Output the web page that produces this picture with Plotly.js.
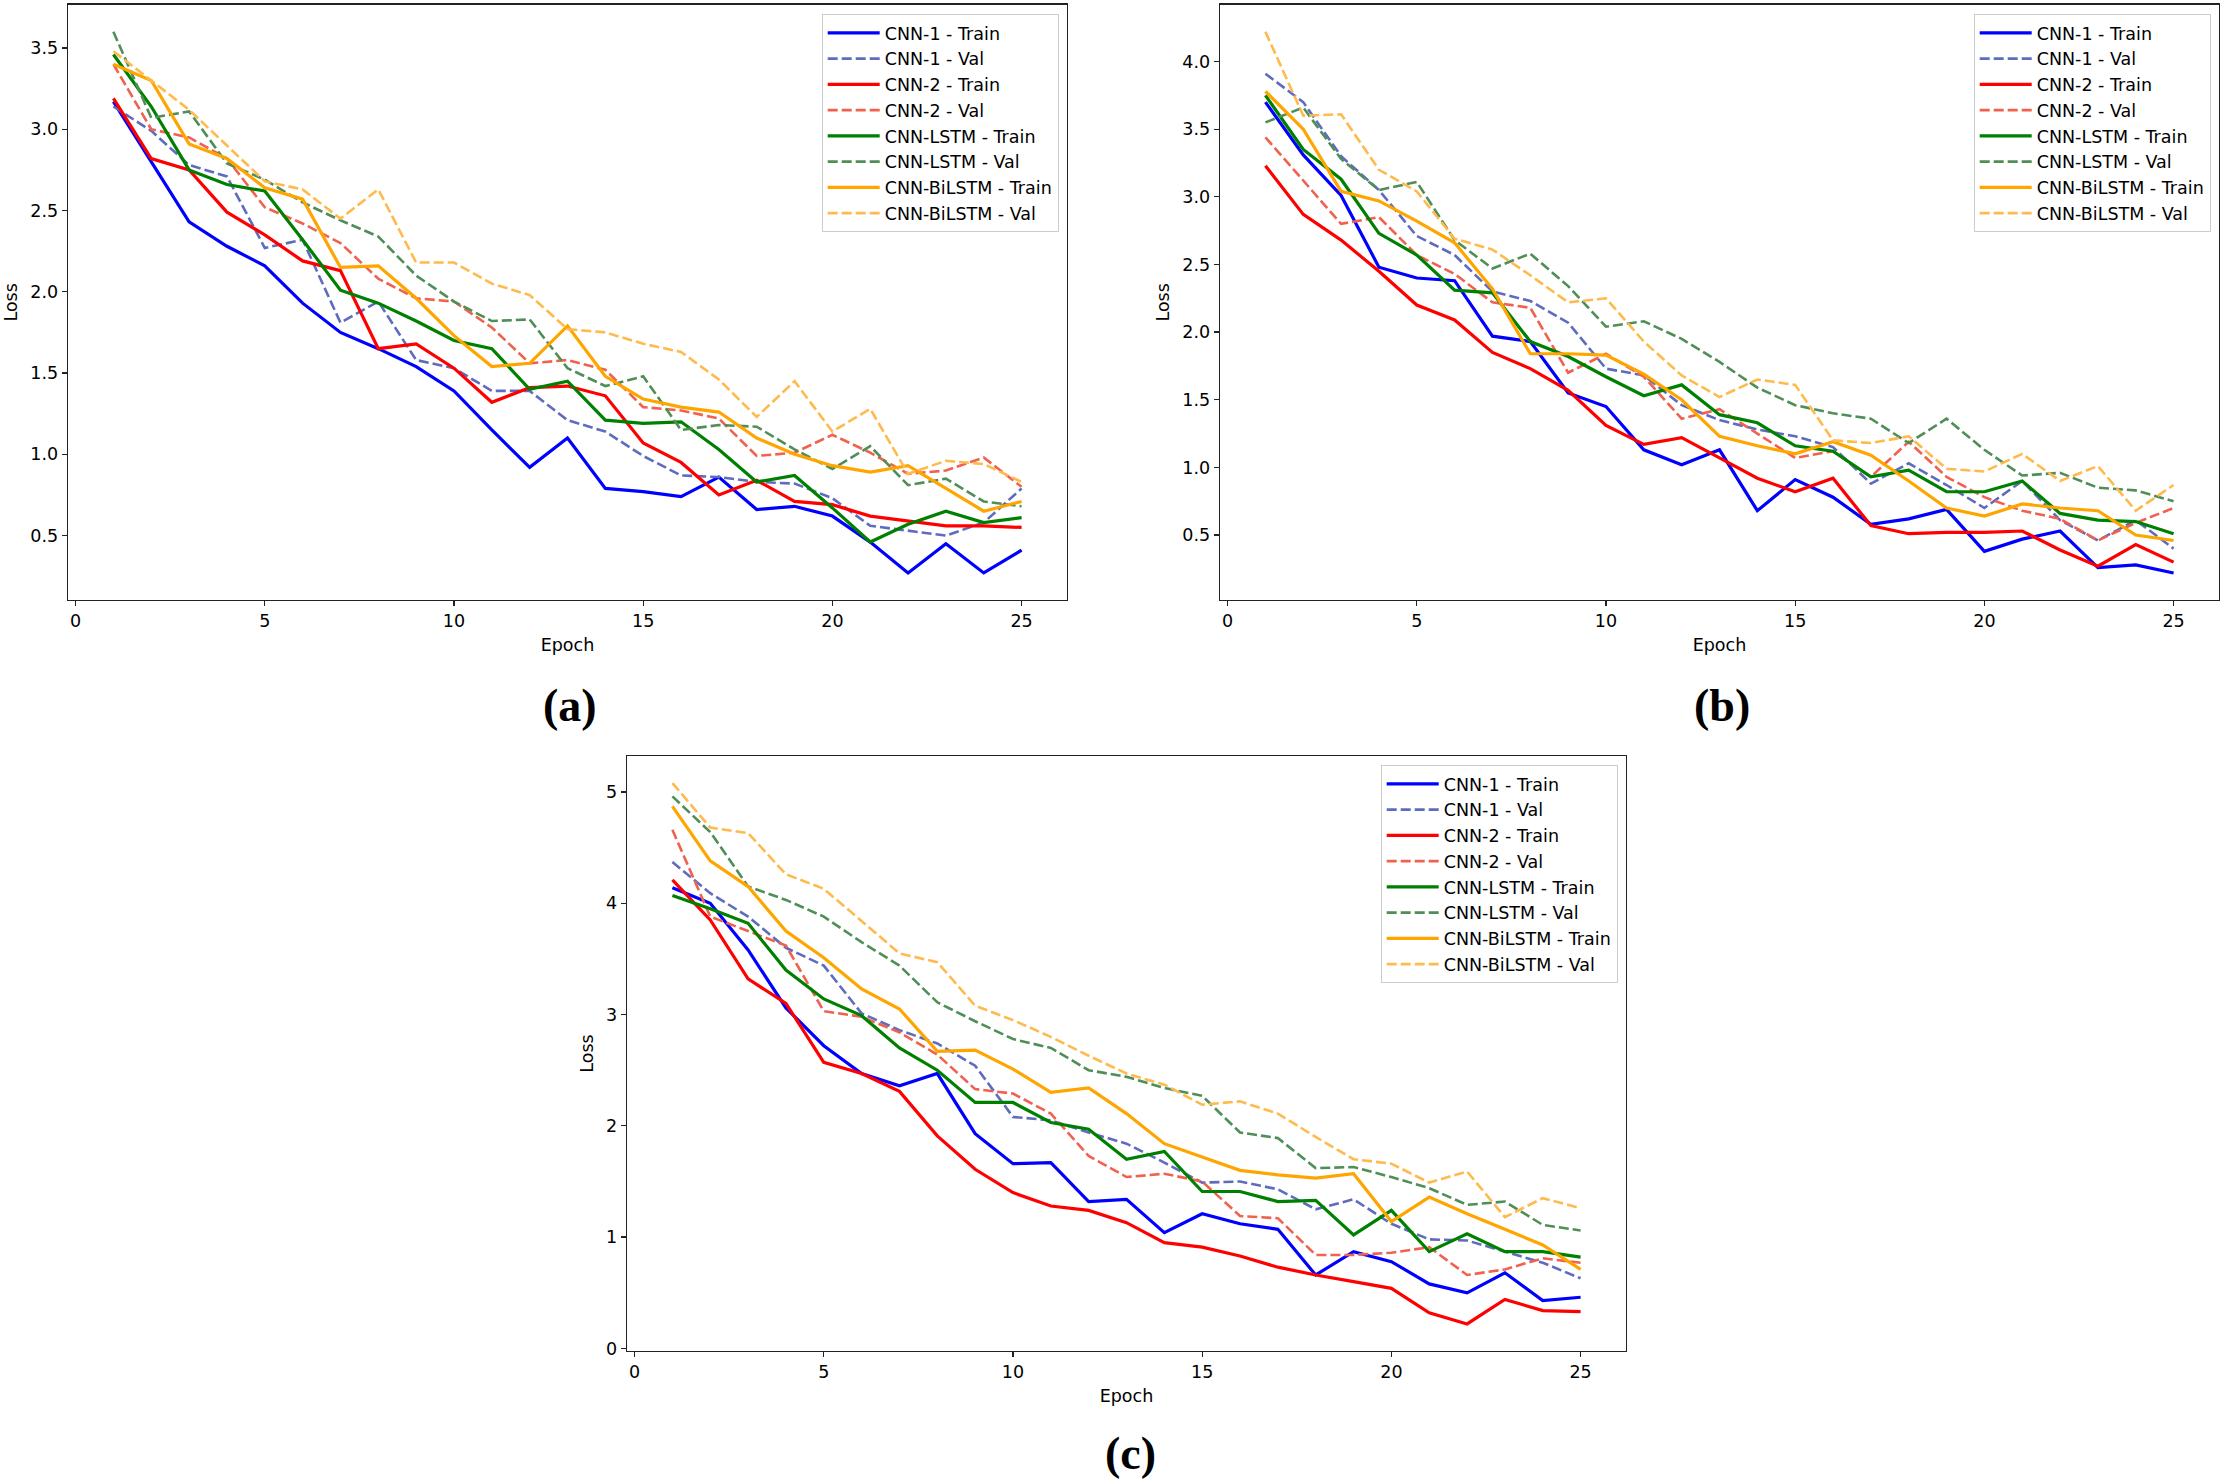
<!DOCTYPE html>
<html>
<head>
<meta charset="utf-8">
<script src="https://cdn.plot.ly/plotly-3.0.1.min.js"></script>
<style>
  html, body { margin: 0; padding: 0; background: #ffffff; }
  #chart { width: 2223px; height: 1482px; }
</style>
</head>
<body>
<div id="chart"></div>
<script>
// ---------------- DATA ----------------
const epochs = [1,2,3,4,5,6,7,8,9,10,11,12,13,14,15,16,17,18,19,20,21,22,23,24,25];

const seriesNames = ["CNN-1 - Train","CNN-1 - Val","CNN-2 - Train","CNN-2 - Val",
                     "CNN-LSTM - Train","CNN-LSTM - Val","CNN-BiLSTM - Train","CNN-BiLSTM - Val"];

const panelLabels = ["(a)", "(b)", "(c)"];

// Panel (a)
const a_cnn1_train = [3.17,2.80,2.43,2.28,2.16,1.93,1.75,1.65,1.54,1.39,1.15,0.92,1.10,0.79,0.77,0.74,0.86,0.66,0.68,0.62,0.46,0.27,0.45,0.27,0.41];
const a_cnn1_val   = [3.14,2.99,2.78,2.71,2.27,2.32,1.81,1.94,1.58,1.53,1.39,1.39,1.21,1.14,0.99,0.87,0.86,0.83,0.82,0.73,0.56,0.53,0.50,0.58,0.79];
const a_cnn2_train = [3.19,2.82,2.75,2.49,2.35,2.19,2.13,1.65,1.68,1.53,1.32,1.41,1.42,1.36,1.07,0.95,0.75,0.84,0.71,0.69,0.62,0.59,0.56,0.56,0.55];
const a_cnn2_val   = [3.40,3.00,2.95,2.82,2.52,2.42,2.30,2.08,1.96,1.94,1.78,1.56,1.58,1.52,1.29,1.27,1.22,0.99,1.01,1.12,1.01,0.88,0.90,0.98,0.80];
const a_lstm_train = [3.46,3.14,2.75,2.66,2.62,2.32,2.01,1.93,1.82,1.70,1.65,1.40,1.45,1.21,1.19,1.20,1.03,0.83,0.87,0.67,0.46,0.57,0.65,0.58,0.61];
const a_lstm_val   = [3.60,3.07,3.11,2.79,2.69,2.55,2.44,2.34,2.10,1.94,1.82,1.83,1.53,1.42,1.48,1.15,1.18,1.17,1.03,0.91,1.05,0.81,0.85,0.71,0.68];
const a_bilstm_train = [3.40,3.30,2.91,2.82,2.64,2.57,2.15,2.16,1.96,1.73,1.54,1.56,1.79,1.48,1.34,1.29,1.26,1.10,1.00,0.93,0.89,0.93,0.79,0.65,0.71];
const a_bilstm_val   = [3.48,3.30,3.12,2.90,2.68,2.63,2.45,2.63,2.18,2.18,2.05,1.98,1.77,1.75,1.68,1.63,1.46,1.23,1.45,1.14,1.28,0.88,0.96,0.94,0.83];

// Panel (b)
const b_cnn1_train = [3.70,3.31,3.01,2.48,2.40,2.38,1.97,1.93,1.55,1.45,1.13,1.02,1.13,0.68,0.91,0.78,0.58,0.62,0.69,0.38,0.47,0.53,0.26,0.28,0.22];
const b_cnn1_val   = [3.91,3.70,3.30,3.05,2.71,2.57,2.30,2.23,2.07,1.73,1.68,1.46,1.35,1.28,1.23,1.15,0.88,1.03,0.87,0.70,0.90,0.61,0.46,0.61,0.40];
const b_cnn2_train = [3.23,2.87,2.68,2.45,2.20,2.09,1.85,1.73,1.57,1.31,1.17,1.22,1.07,0.92,0.82,0.92,0.57,0.51,0.52,0.52,0.53,0.39,0.27,0.43,0.30];
const b_cnn2_val   = [3.44,3.12,2.80,2.85,2.57,2.43,2.22,2.18,1.70,1.84,1.67,1.36,1.43,1.25,1.07,1.12,0.93,1.19,0.93,0.78,0.68,0.62,0.46,0.59,0.70];
const b_lstm_train = [3.75,3.35,3.13,2.73,2.57,2.31,2.29,1.93,1.82,1.67,1.53,1.61,1.39,1.33,1.16,1.12,0.93,0.98,0.82,0.82,0.90,0.66,0.61,0.60,0.51];
const b_lstm_val   = [3.55,3.66,3.28,3.05,3.11,2.68,2.47,2.58,2.34,2.04,2.08,1.95,1.78,1.59,1.46,1.40,1.36,1.18,1.36,1.13,0.94,0.96,0.85,0.83,0.75];
const b_bilstm_train = [3.78,3.50,3.04,2.97,2.82,2.66,2.32,1.84,1.84,1.83,1.69,1.50,1.23,1.16,1.10,1.19,1.09,0.90,0.70,0.64,0.73,0.70,0.68,0.50,0.46];
const b_bilstm_val   = [4.22,3.60,3.61,3.20,3.04,2.69,2.61,2.42,2.22,2.25,1.93,1.68,1.52,1.65,1.61,1.20,1.18,1.23,0.99,0.97,1.10,0.90,1.01,0.68,0.87];

// Panel (c)
const c_cnn1_train = [4.14,4.00,3.58,3.06,2.72,2.47,2.36,2.47,1.93,1.66,1.67,1.32,1.34,1.04,1.21,1.12,1.07,0.66,0.87,0.78,0.58,0.50,0.68,0.43,0.46];
const c_cnn1_val   = [4.37,4.09,3.88,3.60,3.44,3.01,2.86,2.74,2.54,2.08,2.05,1.94,1.84,1.67,1.49,1.50,1.43,1.25,1.34,1.12,0.98,0.97,0.87,0.77,0.63];
const c_cnn2_train = [4.21,3.85,3.32,3.10,2.57,2.47,2.31,1.91,1.61,1.40,1.28,1.24,1.13,0.95,0.91,0.83,0.73,0.66,0.60,0.54,0.32,0.22,0.44,0.34,0.33];
const c_cnn2_val   = [4.66,3.88,3.75,3.62,3.03,2.98,2.84,2.64,2.33,2.29,2.11,1.73,1.54,1.57,1.50,1.19,1.17,0.84,0.84,0.86,0.91,0.66,0.71,0.81,0.77];
const c_lstm_train = [4.07,3.95,3.82,3.40,3.14,2.99,2.70,2.50,2.21,2.21,2.03,1.97,1.70,1.77,1.41,1.41,1.32,1.33,1.02,1.24,0.87,1.03,0.87,0.87,0.82];
const c_lstm_val   = [4.96,4.64,4.15,4.03,3.88,3.65,3.44,3.11,2.94,2.78,2.70,2.50,2.44,2.34,2.27,1.94,1.89,1.62,1.63,1.54,1.44,1.29,1.32,1.11,1.06];
const c_bilstm_train = [4.87,4.38,4.15,3.75,3.51,3.23,3.05,2.67,2.68,2.51,2.30,2.34,2.11,1.84,1.72,1.60,1.56,1.53,1.57,1.14,1.36,1.21,1.07,0.93,0.71];
const c_bilstm_val   = [5.08,4.68,4.63,4.26,4.13,3.84,3.55,3.47,3.08,2.95,2.80,2.63,2.47,2.37,2.19,2.22,2.11,1.90,1.70,1.66,1.49,1.59,1.18,1.35,1.26];

const xTickVals = [0,5,10,15,20,25];
const yTickValsA = [0.5,1.0,1.5,2.0,2.5,3.0,3.5];
const yTickValsB = [0.5,1.0,1.5,2.0,2.5,3.0,3.5,4.0];
const yTickValsC = [0,1,2,3,4,5];

// ---------------- STYLE ----------------
const colors = ["#0000ff","#5f6cbd","#ff0000","#f0624f","#008000","#4f8f57","#ffa500","#ffba4d"];
const FONT = "DejaVu Sans, Arial, sans-serif";
const FS = 17.5;

const panels = [
  {data:[a_cnn1_train,a_cnn1_val,a_cnn2_train,a_cnn2_val,a_lstm_train,a_lstm_val,a_bilstm_train,a_bilstm_val], xa:"x", ya:"y", lg:"legend"},
  {data:[b_cnn1_train,b_cnn1_val,b_cnn2_train,b_cnn2_val,b_lstm_train,b_lstm_val,b_bilstm_train,b_bilstm_val], xa:"x2", ya:"y2", lg:"legend2"},
  {data:[c_cnn1_train,c_cnn1_val,c_cnn2_train,c_cnn2_val,c_lstm_train,c_lstm_val,c_bilstm_train,c_bilstm_val], xa:"x3", ya:"y3", lg:"legend3"}
];

const traces = [];
panels.forEach(p => {
  p.data.forEach((vals, i) => {
    const isVal = (i % 2 === 1);
    traces.push({
      type: "scatter", mode: "lines",
      x: epochs, y: vals,
      name: seriesNames[i],
      xaxis: p.xa, yaxis: p.ya, legend: p.lg,
      line: {color: colors[i], width: isVal ? 2.6 : 3.2, dash: isVal ? "10px,4px" : "solid"},
      hoverinfo: "skip"
    });
  });
});

function yRange(arrs) {
  let mn = Infinity, mx = -Infinity;
  arrs.forEach(a => a.forEach(v => { if (v < mn) mn = v; if (v > mx) mx = v; }));
  const pad = (mx - mn) * 0.05;
  return [mn - pad, mx + pad];
}

const axisCommon = {
  showline: true, mirror: true, linecolor: "#222", linewidth: 1.3,
  ticks: "outside", ticklen: 5, tickwidth: 1.3, tickcolor: "#222",
  showgrid: false, zeroline: false,
  tickfont: {family: FONT, size: FS, color: "#000"}
};

function xAxis(domain, anchor) {
  return Object.assign({}, axisCommon, {
    domain: domain, anchor: anchor, range: [-0.2, 26.2],
    tickmode: "array", tickvals: xTickVals,
    title: {text: "Epoch", font: {family: FONT, size: FS, color: "#000"}, standoff: 8}
  });
}
function yAxis(domain, anchor, range, tickvals, fmt) {
  return Object.assign({}, axisCommon, {
    domain: domain, anchor: anchor, range: range,
    tickmode: "array", tickvals: tickvals, tickformat: fmt,
    title: {text: "Loss", font: {family: FONT, size: FS, color: "#000"}, standoff: 8}
  });
}

function legendAt(x, y) {
  return {
    x: x, y: y, xanchor: "right", yanchor: "top", xref: "paper", yref: "paper",
    bgcolor: "rgba(255,255,255,0.85)", bordercolor: "#cccccc", borderwidth: 1,
    font: {family: FONT, size: FS, color: "#000"},
    itemwidth: 52, traceorder: "normal"
  };
}

const W = 2223, H = 1482;
const dom = {
  ax: [68/W, 1067/W], ay: [1-600/H, 1-4.7/H],
  bx: [1220/W, 2219/W], by: [1-600/H, 1-4.7/H],
  cx: [627/W, 1626/W], cy: [1-1351/H, 1-756/H]
};

const labelFont = {family: "Liberation Serif, DejaVu Serif, serif", size: 46, color: "#000", weight: "bold"};

const layout = {
  width: W, height: H,
  margin: {l: 0, r: 0, t: 0, b: 0},
  paper_bgcolor: "#ffffff", plot_bgcolor: "#ffffff",
  font: {family: FONT, size: FS, color: "#000"},
  showlegend: true,
  xaxis: xAxis(dom.ax, "y"),
  yaxis: yAxis(dom.ay, "x", yRange(panels[0].data), yTickValsA, ".1f"),
  xaxis2: xAxis(dom.bx, "y2"),
  yaxis2: yAxis(dom.by, "x2", yRange(panels[1].data), yTickValsB, ".1f"),
  xaxis3: xAxis(dom.cx, "y3"),
  yaxis3: yAxis(dom.cy, "x3", yRange(panels[2].data), yTickValsC, "d"),
  legend: legendAt(1058.7/W, 1-14/H),
  legend2: legendAt(2210.7/W, 1-14/H),
  legend3: legendAt(1617.7/W, 1-765/H),
  annotations: [
    {text: "<b>" + panelLabels[0] + "</b>", xref: "paper", yref: "paper", x: 570/W, y: 1-705/H, xanchor: "center", yanchor: "middle", showarrow: false, font: labelFont},
    {text: "<b>" + panelLabels[1] + "</b>", xref: "paper", yref: "paper", x: 1722/W, y: 1-705/H, xanchor: "center", yanchor: "middle", showarrow: false, font: labelFont},
    {text: "<b>" + panelLabels[2] + "</b>", xref: "paper", yref: "paper", x: 1130/W, y: 1-1453/H, xanchor: "center", yanchor: "middle", showarrow: false, font: labelFont}
  ]
};

Plotly.newPlot("chart", traces, layout, {staticPlot: true, displayModeBar: false});
</script>
</body>
</html>
